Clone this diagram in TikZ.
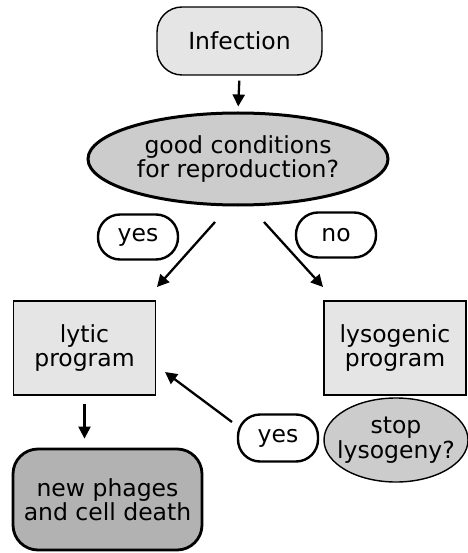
\documentclass[tikz,border=0pt]{standalone}
\usepackage{fontspec}
\setmainfont{DejaVu Sans}
\usetikzlibrary{positioning, arrows.meta, shapes.geometric}

\begin{document}
\begin{tikzpicture}[x=1pt, y=-1pt, >={Triangle[length=12pt,width=12pt]},
      every node/.style={font=\fontsize{23.5}{24.5}\selectfont, align=center, inner sep=0pt},
      arr/.style={->, line width=2.3pt},
      startbox/.style={draw, line width=1.4pt, fill=gray!20, rounded corners=25pt},
      question/.style={ellipse, draw, fill=gray!40},
      answer/.style={draw, line width=2.4pt, fill=white, rounded corners=22pt,
        minimum width=80pt, minimum height=45pt},
      program/.style={draw, line width=1.4pt, fill=gray!20,
        minimum width=142pt, minimum height=94pt},
      endbox/.style={draw, line width=2.8pt, fill=gray!60, rounded corners=25pt}]
    \useasboundingbox (0,0) rectangle (467,553);
    \node[startbox, minimum width=165pt, minimum height=68pt] (infection) at (239.5,41) {Infection};
    \node[question, line width=3pt, minimum width=300pt, minimum height=92pt] (cond) at (238,159)
      {good conditions\\for reproduction?};
    \node[answer] (yesA) at (138,237) {yes};
    \node[answer] (noA) at (336,235) {no};
    \node[program] (lytic) at (84.5,348) {lytic\\program};
    \node[program] (lyso) at (395,348) {lysogenic\\program};
    \node[endbox, minimum width=189pt, minimum height=101pt] (phages) at (107.5,499.5)
      {new phages\\and cell death};
    \node[answer, minimum height=47pt] (yesB) at (278,438) {yes};
    \node[question, line width=1.4pt, inner xsep=-12pt, minimum width=144pt, minimum height=84pt]
      (stop) at (396,440) {stop\\lysogeny?};

    \coordinate (yesS) at (215,222);
    \coordinate (yesE) at (157,287);
    \coordinate (noS) at (264,222);
    \coordinate (noE) at (323,287);
    \coordinate (backS) at (232,422);
    \coordinate (backE) at (165,372);

    \draw[arr, shorten <=5pt, shorten >=5pt] (infection.south) -- (cond.north);
    \draw[arr] (yesS) -- (yesE);
    \draw[arr] (noS) -- (noE);
    \draw[arr, shorten <=8pt, shorten >=9pt] (lytic.south) -- (lytic.south |- phages.north);
    \draw[arr] (backS) -- (backE);
  \end{tikzpicture}
\end{document}
